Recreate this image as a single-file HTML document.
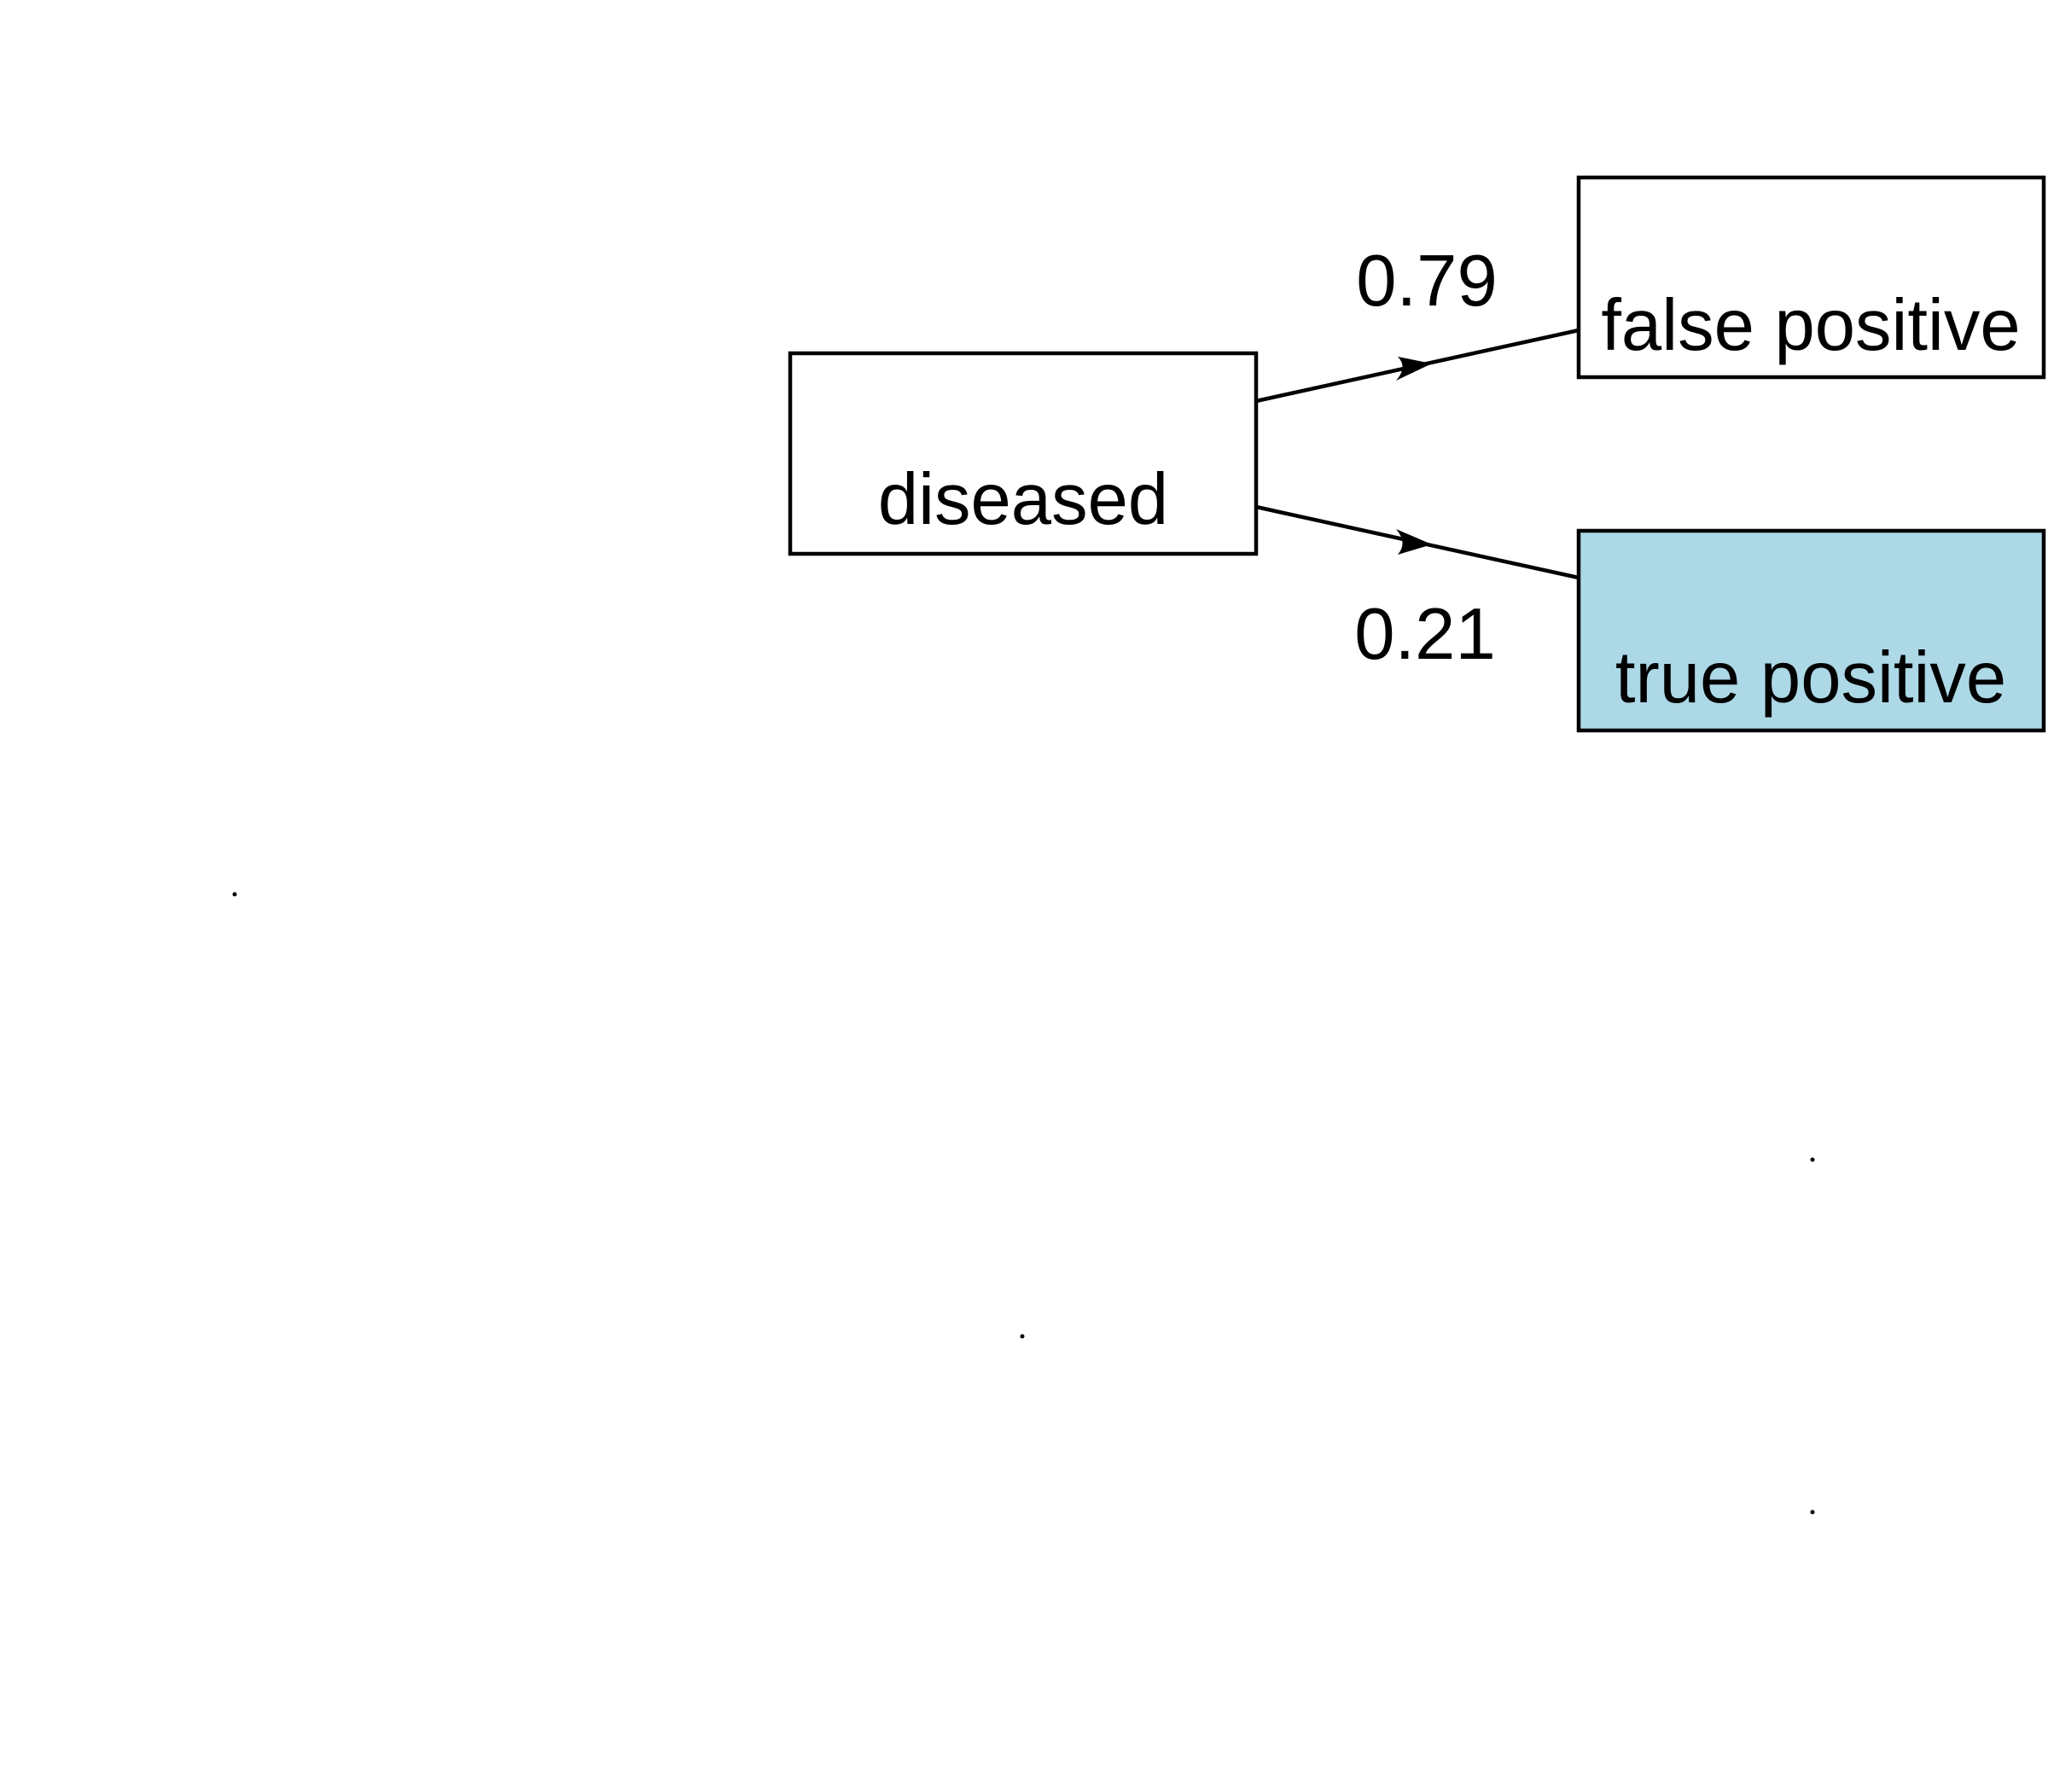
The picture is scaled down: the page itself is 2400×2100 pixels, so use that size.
<!DOCTYPE html>
<html><head><meta charset="utf-8"><style>html,body{margin:0;padding:0;background:#fff}svg{display:block}</style></head>
<body>
<svg width="2400" height="2100" viewBox="0 0 2400 2100" xmlns="http://www.w3.org/2000/svg" font-family="Liberation Sans, Arial, sans-serif">
<rect width="2400" height="2100" fill="#fff"/>
<g stroke="#000" stroke-width="4.5" fill="none">
<line x1="1472" y1="470" x2="1850" y2="387"/>
<line x1="1472" y1="594" x2="1850" y2="677"/>
</g>
<path d="M1678,426 L1638,418 Q1650,430 1636,446 Z" fill="#000"/>
<path d="M1678,638 L1636,620 Q1650,636 1638,650 Z" fill="#000"/>
<rect x="926" y="414" width="546" height="235" fill="#fff" stroke="#000" stroke-width="4.5"/>
<rect x="1850" y="208" width="545" height="234" fill="#fff" stroke="#000" stroke-width="4.5"/>
<rect x="1850" y="622" width="545" height="234" fill="#add8e6" stroke="#000" stroke-width="4.5"/>
<g font-size="85" text-anchor="middle" fill="#000">
<text x="1199" y="614">diseased</text>
<text x="2122" y="410">false positive</text>
<text x="2122" y="823">true positive</text>
<text x="1672" y="358">0.79</text>
<text x="1670" y="772">0.21</text>
</g>
<g fill="#000">
<circle cx="275" cy="1048" r="2.5"/>
<circle cx="2124" cy="1359" r="2.5"/>
<circle cx="1198" cy="1566" r="2.5"/>
<circle cx="2124" cy="1772" r="2.5"/>
</g>
</svg>
</body></html>
